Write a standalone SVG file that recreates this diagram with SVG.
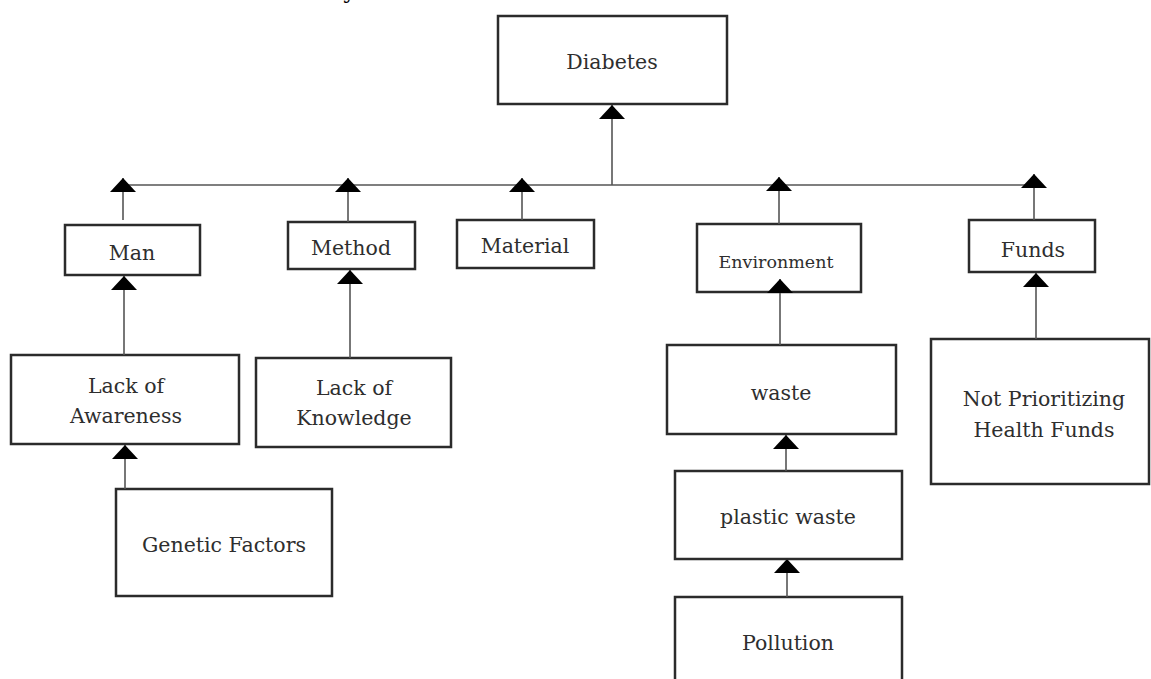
<svg xmlns="http://www.w3.org/2000/svg" width="1151" height="679" viewBox="0 0 1151 679">
<style>
.box{fill:#fff;stroke:#2b2b2b;stroke-width:2.5}
.t{font-family:"DejaVu Serif","Liberation Serif",serif;font-size:20.5px;fill:#2e2e2e;text-anchor:middle}
.s{font-size:17.5px}
.c{stroke:#555;stroke-width:1.6;fill:none}
</style>
<defs>
<marker id="tri" viewBox="0 0 14 26" refX="14" refY="13" markerWidth="14" markerHeight="26" markerUnits="userSpaceOnUse" orient="auto">
<path d="M0,0 L14,13 L0,26 z" fill="#000"/>
</marker>
</defs>
<rect width="1151" height="679" fill="#fff"/>
<text x="343" y="-1" style="font-family:'DejaVu Serif',serif;font-size:20px;font-weight:bold;fill:#000">y</text>
<g id="diabetes"><rect class="box" x="498" y="16" width="229" height="88"/><text class="t" x="612" y="69">Diabetes</text></g>
<g id="man"><rect class="box" x="65" y="225" width="135" height="50"/><text class="t" x="132" y="260">Man</text></g>
<g id="method"><rect class="box" x="288" y="222" width="127" height="47"/><text class="t" x="351" y="255">Method</text></g>
<g id="material"><rect class="box" x="457" y="220" width="137" height="48"/><text class="t" x="525" y="253">Material</text></g>
<g id="environment"><rect class="box" x="697" y="224" width="164" height="68"/><text class="t s" x="776" y="268">Environment</text></g>
<g id="funds"><rect class="box" x="969" y="220" width="126" height="52"/><text class="t" x="1033" y="257">Funds</text></g>
<g id="lack-awareness"><rect class="box" x="11" y="355" width="228" height="89"/><text class="t" x="126" y="393">Lack of</text><text class="t" x="126" y="423">Awareness</text></g>
<g id="lack-knowledge"><rect class="box" x="256" y="358" width="195" height="89"/><text class="t" x="354" y="395">Lack of</text><text class="t" x="354" y="425">Knowledge</text></g>
<g id="genetic"><rect class="box" x="116" y="489" width="216" height="107"/><text class="t" x="224" y="552">Genetic Factors</text></g>
<g id="waste"><rect class="box" x="667" y="345" width="229" height="89"/><text class="t" x="781" y="400">waste</text></g>
<g id="plastic"><rect class="box" x="675" y="471" width="227" height="88"/><text class="t" x="788" y="524">plastic waste</text></g>
<g id="pollution"><rect class="box" x="675" y="597" width="227" height="100"/><text class="t" x="788" y="650">Pollution</text></g>
<g id="not-prioritizing"><rect class="box" x="931" y="339" width="218" height="145"/><text class="t" x="1044" y="406">Not Prioritizing</text><text class="t" x="1044" y="437">Health Funds</text></g>
<g id="connectors">
<line class="c" x1="122" y1="185" x2="1034" y2="185"/>
<line class="c" x1="612" y1="185" x2="612" y2="105" marker-end="url(#tri)"/>
<line class="c" x1="123" y1="220" x2="123" y2="178" marker-end="url(#tri)"/>
<line class="c" x1="348" y1="222" x2="348" y2="178" marker-end="url(#tri)"/>
<line class="c" x1="522" y1="220" x2="522" y2="178" marker-end="url(#tri)"/>
<line class="c" x1="779" y1="224" x2="779" y2="177" marker-end="url(#tri)"/>
<line class="c" x1="1034" y1="220" x2="1034" y2="174" marker-end="url(#tri)"/>
<line class="c" x1="124" y1="355" x2="124" y2="276" marker-end="url(#tri)"/>
<line class="c" x1="350" y1="358" x2="350" y2="270" marker-end="url(#tri)"/>
<line class="c" x1="125" y1="489" x2="125" y2="445" marker-end="url(#tri)"/>
<line class="c" x1="780" y1="345" x2="780" y2="279" marker-end="url(#tri)"/>
<line class="c" x1="786" y1="471" x2="786" y2="435" marker-end="url(#tri)"/>
<line class="c" x1="787" y1="597" x2="787" y2="559" marker-end="url(#tri)"/>
<line class="c" x1="1036" y1="339" x2="1036" y2="273" marker-end="url(#tri)"/>
</g>
</svg>
